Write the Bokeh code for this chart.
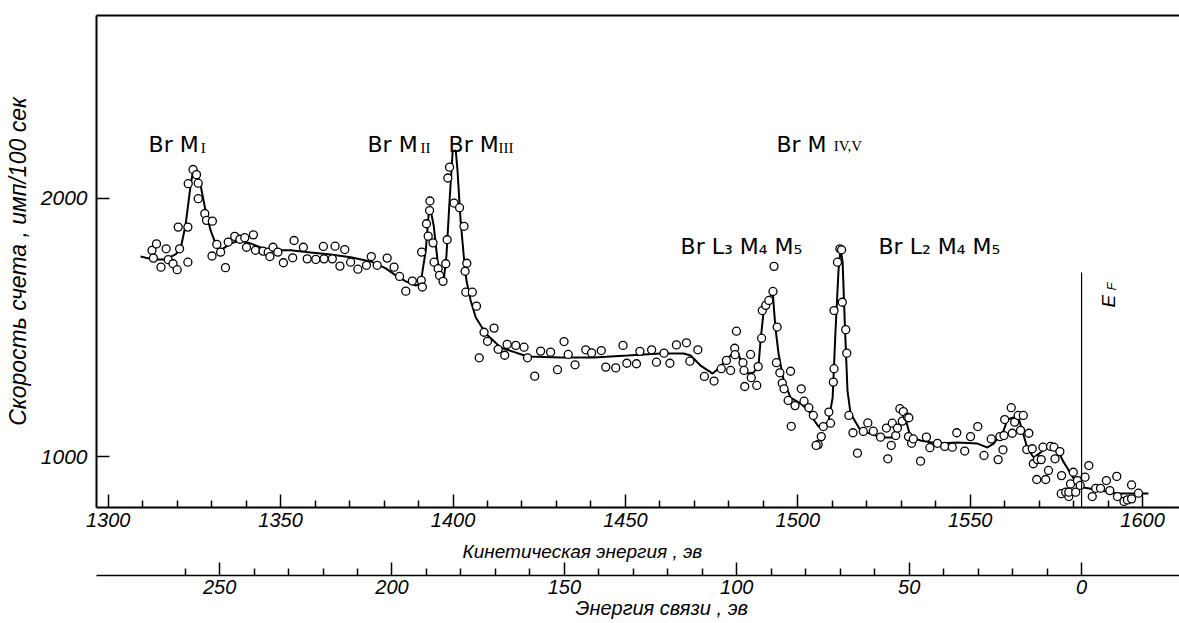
import numpy as np
from bokeh.plotting import figure
from bokeh.models import Range1d, LinearAxis, FixedTicker, Title, Arrow, ColumnDataSource
from bokeh.core.properties import value
from bokeh.embed import file_html
from bokeh.resources import INLINE

# ---------------- data (kinetic energy, eV ; count rate, imp/100 s) ----------------
curve_pairs = [
    (1309.4, 1774), (1312.9, 1763), (1316.6, 1763), (1319.5, 1782), (1321.0, 1805), (1322.4, 1894),
    (1323.9, 2049), (1324.6, 2107), (1325.6, 2100), (1326.8, 2049), (1328.2, 1953), (1329.7, 1875),
    (1331.1, 1825), (1332.6, 1798), (1335.5, 1825), (1338.4, 1836), (1341.3, 1825), (1344.2, 1809),
    (1347.1, 1798), (1352.9, 1798), (1358.7, 1790), (1364.5, 1782), (1370.3, 1771), (1376.1, 1755),
    (1380.5, 1728), (1383.4, 1701), (1386.3, 1678), (1389.2, 1662), (1390.6, 1670), (1392.1, 1798),
    (1392.9, 1933), (1393.4, 1960), (1394.4, 1894), (1395.5, 1759), (1396.4, 1701), (1397.3, 1681),
    (1398.1, 1778), (1399.0, 1991), (1399.9, 2180), (1400.8, 2185), (1401.3, 2107), (1402.2, 1914),
    (1403.1, 1778), (1403.9, 1681), (1405.1, 1604), (1406.6, 1538), (1409.5, 1476), (1413.8, 1422),
    (1421.6, 1387), (1431.2, 1383), (1440.8, 1383), (1450.6, 1391), (1460.2, 1399), (1466.9, 1399),
    (1468.9, 1391), (1471.8, 1352), (1475.3, 1321), (1477.0, 1341), (1479.6, 1379), (1482.0, 1410),
    (1482.8, 1399), (1484.0, 1345), (1485.4, 1321), (1487.2, 1325), (1488.6, 1352), (1489.2, 1449),
    (1490.1, 1565), (1491.5, 1604), (1492.7, 1639), (1493.5, 1500), (1494.4, 1399), (1495.9, 1294),
    (1497.9, 1228), (1500.8, 1205), (1503.1, 1178), (1504.6, 1143), (1506.0, 1116), (1507.5, 1112),
    (1508.9, 1136), (1510.1, 1228), (1510.9, 1476), (1511.8, 1720), (1512.4, 1805), (1513.0, 1751),
    (1513.6, 1527), (1514.4, 1256), (1515.3, 1166), (1518.2, 1101), (1524.0, 1074), (1527.5, 1074),
    (1529.8, 1139), (1531.0, 1159), (1532.7, 1074), (1535.6, 1062), (1540.5, 1050), (1546.3, 1054),
    (1552.1, 1050), (1555.0, 1035), (1556.8, 1050), (1559.7, 1101), (1560.8, 1143), (1562.6, 1151),
    (1564.0, 1151), (1566.6, 1031), (1568.4, 996), (1570.4, 1015), (1572.7, 1043), (1575.3, 1031),
    (1576.8, 985), (1580.0, 915), (1582.9, 880), (1587.8, 868), (1592.7, 857), (1601.7, 857),
]

point_pairs = [
    (1312.7, 1798), (1314.0, 1823), (1313.1, 1768), (1315.3, 1733), (1316.8, 1804), (1317.4, 1762),
    (1318.8, 1746), (1320.0, 1723), (1320.7, 1804), (1320.3, 1888), (1323.1, 1888), (1323.1, 1752),
    (1323.2, 2056), (1324.6, 2111), (1325.6, 2091), (1326.1, 2058), (1326.1, 1998), (1328.0, 1940),
    (1328.5, 1914), (1330.2, 1911), (1331.5, 1821), (1330.1, 1776), (1332.6, 1791), (1334.0, 1731),
    (1334.8, 1830), (1336.7, 1852), (1338.2, 1841), (1339.6, 1847), (1340.1, 1810), (1342.1, 1858),
    (1342.7, 1798), (1344.9, 1795), (1346.4, 1791), (1347.8, 1810), (1346.9, 1774), (1349.2, 1791),
    (1350.8, 1750), (1353.5, 1769), (1353.9, 1836), (1356.6, 1810), (1357.7, 1765), (1360.2, 1763),
    (1362.4, 1813), (1362.6, 1765), (1365.0, 1765), (1365.8, 1814), (1367.2, 1737), (1368.6, 1801),
    (1370.3, 1752), (1372.4, 1725), (1374.9, 1740), (1376.3, 1774), (1378.0, 1740), (1380.9, 1768),
    (1382.9, 1733), (1384.5, 1697), (1386.3, 1640), (1388.2, 1679), (1390.8, 1682), (1391.1, 1656),
    (1390.9, 1791), (1392.3, 1901), (1393.3, 1989), (1393.2, 1952), (1392.8, 1853), (1394.2, 1827),
    (1394.5, 1752), (1395.7, 1727), (1396.1, 1701), (1397.1, 1678), (1397.9, 1746), (1398.3, 1839),
    (1398.5, 2078), (1399.0, 2120), (1400.3, 1981), (1401.9, 1963), (1403.2, 1891), (1404.0, 1748),
    (1403.5, 1717), (1403.7, 1636), (1405.6, 1636), (1406.8, 1582), (1407.6, 1382), (1409.0, 1481),
    (1410.0, 1446), (1411.9, 1497), (1413.1, 1415), (1415.0, 1392), (1415.7, 1434), (1418.2, 1430),
    (1420.6, 1423), (1421.6, 1382), (1423.7, 1311), (1425.4, 1408), (1428.3, 1404), (1430.3, 1336),
    (1432.2, 1445), (1433.4, 1395), (1435.4, 1355), (1438.5, 1413), (1440.2, 1401), (1443.0, 1410),
    (1444.3, 1346), (1447.2, 1343), (1449.3, 1430), (1450.4, 1361), (1453.2, 1359), (1454.2, 1407),
    (1457.6, 1413), (1459.0, 1365), (1461.2, 1400), (1462.9, 1361), (1464.8, 1432), (1467.7, 1440),
    (1468.7, 1369), (1471.0, 1413), (1472.9, 1310), (1475.7, 1292), (1477.8, 1340), (1479.3, 1372),
    (1480.5, 1333), (1481.7, 1419), (1482.2, 1485), (1481.8, 1394), (1484.1, 1363), (1484.4, 1333),
    (1484.6, 1271), (1486.3, 1395), (1486.5, 1305), (1488.1, 1275), (1488.5, 1348), (1489.5, 1458),
    (1489.7, 1565), (1490.7, 1585), (1491.6, 1604), (1492.8, 1639), (1493.1, 1736), (1494.0, 1501),
    (1493.8, 1363), (1494.8, 1324), (1495.5, 1284), (1496.0, 1262), (1497.2, 1217), (1497.9, 1330),
    (1499.2, 1197), (1498.1, 1117), (1501.0, 1262), (1501.8, 1214), (1503.2, 1189), (1504.5, 1159),
    (1506.8, 1077), (1505.9, 1046), (1505.3, 1043), (1507.4, 1116), (1509.0, 1172), (1509.5, 1129),
    (1510.3, 1288), (1510.5, 1340), (1510.5, 1565), (1511.5, 1752), (1512.2, 1804), (1512.7, 1800),
    (1512.9, 1597), (1513.9, 1491), (1514.2, 1400), (1514.8, 1159), (1516.0, 1092), (1517.3, 1013),
    (1519.0, 1097), (1520.3, 1130), (1521.9, 1098), (1524.0, 1075), (1525.7, 1110), (1526.1, 991),
    (1527.1, 1043), (1527.4, 1129), (1528.4, 1081), (1528.9, 1110), (1529.6, 1185), (1530.6, 1174),
    (1530.3, 1137), (1531.8, 1152), (1532.2, 1150), (1532.1, 1077), (1533.0, 1051), (1533.5, 1068),
    (1535.6, 982), (1537.3, 1075), (1538.3, 1034), (1540.5, 1051), (1542.6, 1039), (1544.8, 1036),
    (1546.1, 1092), (1548.4, 1021), (1550.1, 1077), (1552.2, 1116), (1554.0, 1004), (1556.1, 1068),
    (1558.1, 988), (1558.6, 1077), (1559.5, 1026), (1559.8, 1081), (1560.0, 1143), (1561.9, 1189),
    (1562.9, 1133), (1562.2, 1090), (1563.9, 1159), (1565.4, 1159), (1564.6, 1101), (1567.0, 1090),
    (1566.4, 1027), (1568.0, 1030), (1568.3, 972), (1569.5, 988), (1569.3, 911), (1570.6, 988),
    (1571.1, 1036), (1571.9, 911), (1572.7, 946), (1573.3, 1039), (1574.6, 991), (1574.3, 1036),
    (1576.0, 1019), (1576.5, 926), (1576.4, 856), (1577.7, 862), (1578.6, 845), (1578.6, 862),
    (1579.1, 894), (1579.9, 939), (1580.6, 862), (1581.1, 907), (1581.9, 888), (1583.3, 920),
    (1584.4, 965), (1585.4, 845), (1586.4, 877), (1587.8, 877), (1589.5, 907), (1590.5, 868),
    (1592.5, 923), (1592.7, 845), (1594.6, 826), (1595.6, 832), (1596.8, 890), (1596.8, 836),
    (1598.8, 858),
]

curve_ke = [a for a, b in curve_pairs]
curve_counts = [b for a, b in curve_pairs]
point_ke = [a for a, b in point_pairs]
point_counts = [b for a, b in point_pairs]

kinetic_ticks = [1300, 1350, 1400, 1450, 1500, 1550, 1600]
kinetic_minor = [1310, 1320, 1330, 1340, 1360, 1370, 1380, 1390, 1410, 1420, 1430, 1440,
                 1460, 1470, 1480, 1490, 1510, 1520, 1530, 1540, 1560, 1570, 1580, 1590]
binding_ticks = [250, 200, 150, 100, 50, 0]
binding_minor = [260, 240, 230, 220, 210, 190, 180, 170, 160, 140, 130, 120, 110,
                 90, 80, 70, 60, 40, 30, 20, 10]
count_ticks = [1000, 2000]

E_F = 1582.3            # Fermi level on the kinetic-energy scale (binding energy 0)
EF_TOP = 1712
EF_BOTTOM = 531

peak_names = ["Br M", "Br M", "Br M", "Br M", "Br L\u2083 M\u2084 M\u2085", "Br L\u2082 M\u2084 M\u2085"]
peak_name_x = [1311.7, 1375.2, 1398.7, 1493.8, 1466.0, 1523.4]
peak_name_y = [2208, 2208, 2208, 2208, 1813, 1813]
peak_sub = ["I", "II", "III", "IV,V"]
peak_sub_x = [1326.8, 1390.6, 1413.2, 1510.4]
peak_sub_y = [2196, 2196, 2196, 2200]

X_START, X_END = 1296.6, 1610.7
Y_START, Y_END = 802.6, 2707

ITAL = "Liberation Sans"
LBL = "DejaVu Sans"

p = figure(width=1179, height=623,
           x_range=Range1d(X_START, X_END), y_range=Range1d(Y_START, Y_END),
           x_axis_type=None, y_axis_type=None,
           output_backend="svg", toolbar_location=None,
           min_border_left=96, min_border_right=0, min_border_top=15, min_border_bottom=116,
           outline_line_color=None, background_fill_color="white", border_fill_color="white")
p.extra_x_ranges = {"be": Range1d(E_F - X_START, E_F - X_END)}

# top frame line
top = LinearAxis(ticker=FixedTicker(ticks=[]), axis_line_width=2,
                 major_tick_in=0, major_tick_out=0, minor_tick_in=0, minor_tick_out=0,
                 major_tick_line_color=None, minor_tick_line_color=None,
                 major_label_text_font_size="0px", major_label_standoff=0)
p.add_layout(top, "above")

# y axis
ya = LinearAxis(ticker=FixedTicker(ticks=count_ticks), axis_line_width=2,
                major_tick_in=13, major_tick_out=0, minor_tick_in=0, minor_tick_out=0,
                major_tick_line_width=1.5,
                minor_tick_line_color=None, major_label_standoff=9,
                major_label_text_font=ITAL, major_label_text_font_size="21px",
                major_label_text_font_style="italic", major_label_text_color="black",
                axis_label="Скорость счета , имп/100 сек", axis_label_standoff=7,
                axis_label_text_font=ITAL, axis_label_text_font_size="23px",
                axis_label_text_font_style="italic", axis_label_text_color="black")
p.add_layout(ya, "left")

# kinetic energy axis
xa = LinearAxis(ticker=FixedTicker(ticks=kinetic_ticks, minor_ticks=kinetic_minor),
                axis_line_width=2, major_tick_in=13, major_tick_out=0, minor_tick_in=7, minor_tick_out=0,
                major_tick_line_width=1.5, minor_tick_line_width=1.5, major_label_standoff=5,
                major_label_text_font=ITAL, major_label_text_font_size="20px",
                major_label_text_font_style="italic", major_label_text_color="black")
p.add_layout(xa, "below")
p.add_layout(Title(text="Кинетическая энергия , эв", align="left", offset=366,
                   text_font=ITAL, text_font_size="19px", text_font_style="italic",
                   text_color="black", standoff=23, vertical_align="top"), "below")

# binding energy axis
xb = LinearAxis(x_range_name="be", ticker=FixedTicker(ticks=binding_ticks, minor_ticks=binding_minor),
                axis_line_width=1.5, major_tick_in=13, major_tick_out=0, minor_tick_in=7, minor_tick_out=0,
                major_tick_line_width=1.5, minor_tick_line_width=1.5, major_label_standoff=4,
                major_label_text_font=ITAL, major_label_text_font_size="20px",
                major_label_text_font_style="italic", major_label_text_color="black")
p.add_layout(xb, "below")
p.add_layout(Title(text="Энергия связи , эв", align="left", offset=479,
                   text_font=ITAL, text_font_size="20px", text_font_style="italic",
                   text_color="black", standoff=0, vertical_align="top"), "below")

# Fermi level line
p.add_layout(Arrow(end=None, x_start=E_F, y_start=EF_TOP, x_end=E_F, y_end=EF_BOTTOM,
                   line_color="black", line_width=1.2))

# curve and points
p.line(curve_ke, curve_counts, line_color="black", line_width=2)
p.scatter(point_ke, point_counts, marker="circle", size=8, fill_color="white",
          line_color="black", line_width=1.3)

# labels
src_main = ColumnDataSource(dict(x=peak_name_x, y=peak_name_y, t=peak_names))
p.text(x="x", y="y", text="t", source=src_main, text_font=value(LBL), text_font_size="22px",
       text_baseline="alphabetic", text_align="left", text_color="black")
src_sub = ColumnDataSource(dict(x=peak_sub_x, y=peak_sub_y, t=peak_sub))
p.text(x="x", y="y", text="t", source=src_sub, text_font=value("Liberation Serif"), text_font_size="15px",
       text_baseline="alphabetic", text_align="left", text_color="black")

p.text(x=[1590.1], y=[1577], text=["E"], angle=np.pi / 2, text_font=value(ITAL),
       text_font_size="19px", text_font_style="italic", text_baseline="alphabetic", text_color="black")
p.text(x=[1591.0], y=[1643], text=["F"], angle=np.pi / 2, text_font=value(ITAL),
       text_font_size="13px", text_font_style="italic", text_baseline="alphabetic", text_color="black")

open("out.html", "w").write(file_html(p, INLINE))
